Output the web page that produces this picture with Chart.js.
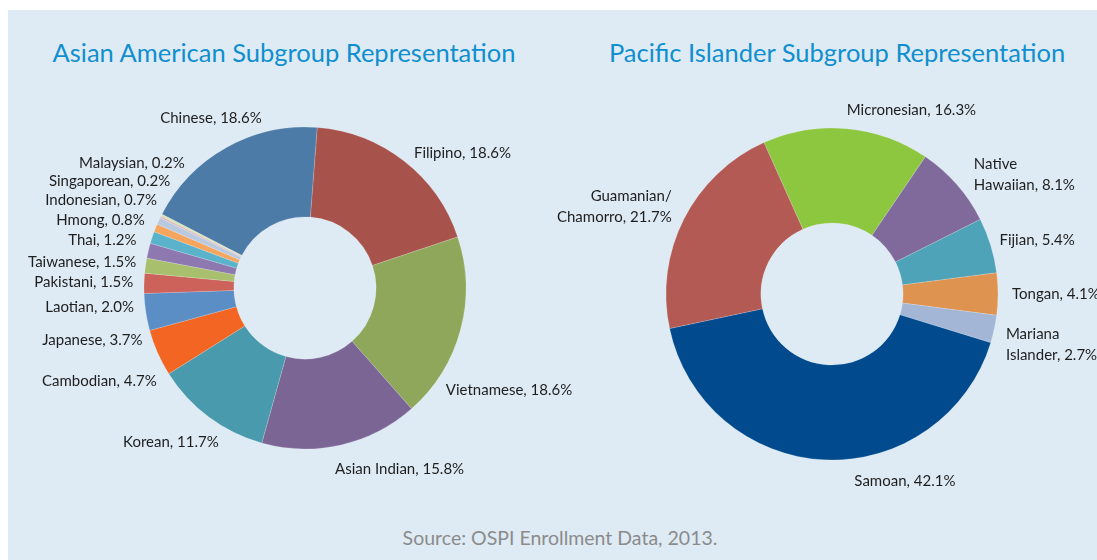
<!DOCTYPE html>
<html>
<head>
    <title>Asian American and Pacific Islander Subgroups</title>
    <script src="https://cdn.jsdelivr.net/npm/chart.js"></script>
    <style>
        body { margin: 0; background: #fff; width: 1097px; height: 560px; overflow: hidden; position: relative; font-family: Lato, sans-serif; }
        #panel { position: absolute; left: 8px; top: 10px; width: 1089px; height: 550px; background: #deebf5; }
        .title { position: absolute; top: 35px; width: 540px; text-align: center; color: #0f8fcf; font-size: 25.5px; line-height: 34px; }
        #source { position: absolute; left: 0; width: 1120px; top: 525px; text-align: center; color: #8b8b8b; font-size: 19.5px; line-height: 26px; }
        canvas { position: absolute; left: 0; top: 0; }
    </style>
</head>
<body>
    <div id="panel"></div>
    <div class="title" style="left: 14px;">Asian American Subgroup Representation</div>
    <div class="title" style="left: 567px;">Pacific Islander Subgroup Representation</div>
    <div id="source">Source: OSPI Enrollment Data, 2013.</div>
    <canvas id="asianChart" width="1097" height="560"></canvas>
    <canvas id="pacificChart" width="1097" height="560"></canvas>

    <script>
        // Asian American subgroups (percent of enrollment)
        const asianNames = ['Chinese', 'Filipino', 'Vietnamese', 'Asian Indian', 'Korean', 'Cambodian', 'Japanese',
            'Laotian', 'Pakistani', 'Taiwanese', 'Thai', 'Hmong', 'Indonesian', 'Singaporean', 'Malaysian'];
        const asianValues = [18.6, 18.6, 18.6, 15.8, 11.7, 4.7, 3.7, 2.0, 1.5, 1.5, 1.2, 0.8, 0.7, 0.2, 0.2];
        const asianColors = ['#4d7ba7', '#a7534c', '#8fa75b', '#7a6594', '#4a9aae', '#f26522', '#5b8ec4',
            '#cd625b', '#a8c06e', '#8d79b0', '#5bb3cb', '#f5a55e', '#b9c9e0', '#e3b9b7', '#d5e3b7'];

        // Pacific Islander subgroups
        const pacificNames = ['Micronesian', 'Native\nHawaiian', 'Fijian', 'Tongan', 'Mariana\nIslander', 'Samoan', 'Guamanian/\nChamorro'];
        const pacificValues = [16.3, 8.1, 5.4, 4.1, 2.7, 42.1, 21.7];
        const pacificColors = ['#8dc63f', '#806a9b', '#4fa3b8', '#de9350', '#a3b6d6', '#004a8d', '#b45a54'];

        // small shifts so labels sit where the original put them
        const asianNudge = [[16, -8], [20, 11], [-26, 54], [41, 0], [-1, 5], [7, 18], [10, 24], [4, 25],
            [1, 20], [0, 17], [-4, 10], [-1, 1], [6, -11], [16, -25], [30, -41]];
        const pacificNudge = [[58, 6], [19, 13], [-3, 2], [0, 0], [-1, 8], [83, -3], [-6, 4]];

        const labelFont = '15px Lato';
        const lineH = 21;

        const sliceLabels = {
            id: 'sliceLabels',
            afterDraw(chart, args, opts) {
                const ctx = chart.ctx;
                const meta = chart.getDatasetMeta(0);
                const values = chart.data.datasets[0].data;
                ctx.save();
                ctx.font = labelFont;
                ctx.fillStyle = '#1e1e1e';
                ctx.textBaseline = 'middle';
                meta.data.forEach((arc, i) => {
                    const lines = (chart.data.labels[i] + ', ' + values[i].toFixed(1) + '%').split('\n');
                    const w = Math.max(...lines.map(l => ctx.measureText(l).width));
                    const h = lines.length * lineH;
                    const mid = (arc.startAngle + arc.endAngle) / 2;
                    const ux = Math.cos(mid), uy = Math.sin(mid);
                    const r = arc.outerRadius + 14;
                    const nudge = opts.nudge[i] || [0, 0];
                    const cx = arc.x + r * ux + w / 2 * ux + nudge[0];
                    const cy = arc.y + r * uy + h / 2 * uy + nudge[1];
                    let align = 'center', tx = cx;
                    if (ux > 0.3) { align = 'left'; tx = cx - w / 2; }
                    else if (ux < -0.3) { align = 'right'; tx = cx + w / 2; }
                    ctx.textAlign = align;
                    lines.forEach((l, k) => {
                        ctx.fillText(l, tx, cy - h / 2 + lineH / 2 + k * lineH);
                    });
                });
                ctx.restore();
            }
        };

        function makeDonut(id, names, values, colors, nudge, rotation, radius, cutout, padding) {
            return new Chart(document.getElementById(id), {
                type: 'doughnut',
                data: {
                    labels: names,
                    datasets: [{
                        data: values,
                        backgroundColor: colors,
                        borderColor: 'rgba(255,255,255,0.35)',
                        borderWidth: 0.5,
                        radius: radius,
                        cutout: cutout
                    }]
                },
                options: {
                    responsive: false,
                    animation: false,
                    rotation: rotation,
                    layout: { padding: padding },
                    plugins: {
                        legend: { display: false },
                        tooltip: { enabled: false },
                        sliceLabels: { nudge: nudge }
                    }
                },
                plugins: [sliceLabels]
            });
        }

        makeDonut('asianChart', asianNames, asianValues, asianColors, asianNudge, -62.7, 161, 71,
            { left: 144, right: 631, top: 127, bottom: 111 });
        makeDonut('pacificChart', pacificNames, pacificValues, pacificColors, pacificNudge, -24.2, 166, 71,
            { left: 666, right: 99, top: 128, bottom: 100 });
    </script>
</body>
</html>
